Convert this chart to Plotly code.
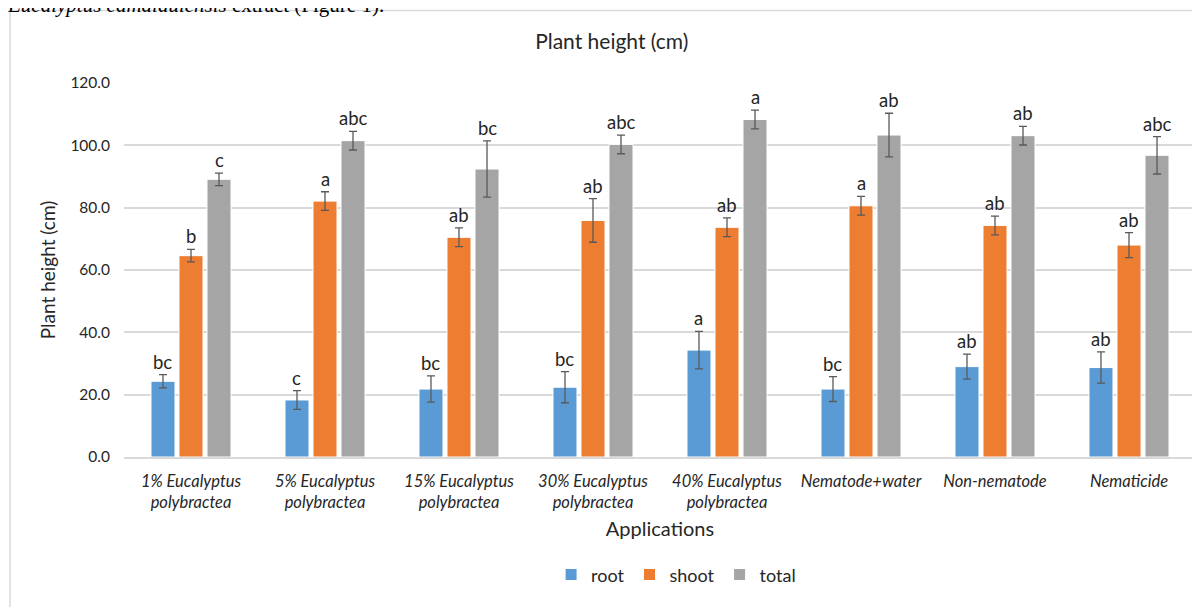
import plotly.graph_objects as go

categories = ["1% Eucalyptus<br>polybractea", "5% Eucalyptus<br>polybractea",
              "15% Eucalyptus<br>polybractea", "30% Eucalyptus<br>polybractea",
              "40% Eucalyptus<br>polybractea", "Nematode+water", "Non-nematode", "Nematicide"]

root = [24.3, 18.3, 21.8, 22.4, 34.3, 21.8, 29.0, 28.7]
root_err = [2.1, 3.0, 4.2, 5.0, 6.0, 4.0, 4.0, 5.0]
root_lbl = ["bc", "c", "bc", "bc", "a", "bc", "ab", "ab"]

shoot = [64.6, 82.1, 70.5, 75.9, 73.7, 80.6, 74.3, 68.0]
shoot_err = [2.0, 3.0, 3.0, 7.0, 3.0, 3.0, 3.0, 4.0]
shoot_lbl = ["b", "a", "ab", "ab", "ab", "a", "ab", "ab"]

total = [89.1, 101.5, 92.4, 100.3, 108.3, 103.3, 103.1, 96.8]
total_err = [2.0, 3.0, 9.0, 3.0, 3.0, 7.0, 3.0, 6.0]
total_lbl = ["c", "abc", "bc", "abc", "a", "ab", "ab", "abc"]

series = [
    ("root", root, root_err, root_lbl, "#5B9BD5"),
    ("shoot", shoot, shoot_err, shoot_lbl, "#ED7D31"),
    ("total", total, total_err, total_lbl, "#A5A5A5"),
]

yticks = [0, 20, 40, 60, 80, 100, 120]

FONT = "Lato"
TXT = "#262626"

BARGAP = 0.373
slot = (1 - BARGAP) / 3

fig = go.Figure()
annotations = []
for k, (name, vals, errs, lbls, col) in enumerate(series):
    fig.add_trace(go.Bar(
        name=name, x=categories, y=vals,
        marker=dict(color=col, line=dict(color="white", width=1)),
        error_y=dict(type="data", array=errs, visible=True, color="#595959",
                     thickness=1.3, width=4),
    ))
    off = (k - 1) * slot
    for i, (v, e, l) in enumerate(zip(vals, errs, lbls)):
        annotations.append(dict(
            x=i + off, y=v + e, xref="x", yref="y", text=l, showarrow=False,
            yanchor="bottom", xanchor="center", yshift=0,
            font=dict(family=FONT, size=18.5, color=TXT)))

# page text cut off above the chart (as in the reference)
annotations.append(dict(
    x=-0.111, y=1.245, xref="paper", yref="paper", xanchor="left", yanchor="top",
    showarrow=False,
    text="<i>Eucalyptus camaldulensis</i> extract (Figure 1).",
    font=dict(family="Liberation Serif", size=21, color="#000000")))

fig.update_layout(
    width=1192, height=599,
    margin=dict(l=116, r=4, t=75, b=150, autoexpand=False),
    paper_bgcolor="white", plot_bgcolor="white",
    barmode="group", bargap=BARGAP, bargroupgap=0.143,
    title=dict(text="Plant height (cm)", x=0.455, xref="paper", xanchor="center",
               y=1 - 34 / 599, yref="container", yanchor="middle",
               font=dict(family=FONT, size=21, color=TXT)),
    font=dict(family=FONT, color=TXT),
    legend=dict(orientation="h", x=0.515, xanchor="center", y=-0.315, yanchor="middle",
                font=dict(family=FONT, size=18, color=TXT), itemwidth=30,
                traceorder="normal"),
    annotations=annotations,
    shapes=[dict(type="rect", xref="paper", yref="paper",
                 x0=-0.1063, x1=1.02, y0=-0.45, y1=1.194,
                 line=dict(color="#d9d9d9", width=1.5), fillcolor="rgba(0,0,0,0)",
                 layer="below")],
)

fig.update_xaxes(
    type="category", showgrid=False, zeroline=False, showline=True,
    linecolor="#d9d9d9", linewidth=1.5, ticks="", automargin=False,
    ticklabelstandoff=8,
    tickfont=dict(family=FONT, size=16.5, color=TXT, style="italic"),
    title=dict(text="Applications", font=dict(family=FONT, size=20, color=TXT), standoff=11),
)
fig.update_yaxes(
    range=[0, 120], tickvals=yticks, ticktext=[f"{v:.1f}" for v in yticks],
    showgrid=True, gridcolor="#d9d9d9", gridwidth=1.5, zeroline=False,
    ticks="", ticklabelstandoff=13, automargin=False,
    tickfont=dict(family=FONT, size=15.5, color=TXT),
    title=dict(text="Plant height (cm)", font=dict(family=FONT, size=19, color=TXT), standoff=9),
)

fig.write_html("out.html")
